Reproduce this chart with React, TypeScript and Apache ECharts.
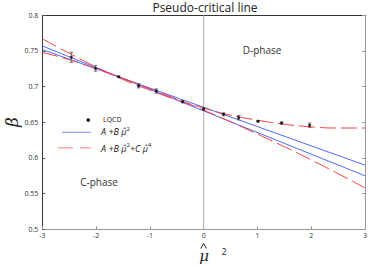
import React, { useEffect, useRef } from "react";
import * as echarts from "echarts";

// LQCD data points: mu-hat squared, beta, error
const lqcdX = [-2.46, -2.01, -1.58, -1.21, -0.88, -0.39, 0, 0.37, 0.65, 1.01, 1.45, 1.97];
const lqcdY = [0.7411, 0.7257, 0.7139, 0.7013, 0.6939, 0.6789, 0.6686, 0.6612, 0.6565, 0.6514, 0.649, 0.6458];
const lqcdErr = [0.007, 0.004, 0.001, 0.003, 0.003, 0.0015, 0.002, 0.002, 0.003, 0.001, 0.0015, 0.003];

// Linear fit band (A + B mu^2): two straight lines
const linX = [-3, 3];
const linUpperLeft = [0.757, 0.575];
const linLowerLeft = [0.752, 0.59];

// Quartic fit band (A + B mu^2 + C mu^4)
const quadX = [-3, -2.5, -2, -1.5, -1, -0.5, 0, 0.5, 1, 1.5, 2, 2.5, 3];
const quadConvex = [0.767, 0.7468, 0.7276, 0.71, 0.695, 0.6815, 0.67, 0.66, 0.653, 0.6473, 0.6436, 0.642, 0.642];
const quadConcave = [0.748, 0.7378, 0.725, 0.7116, 0.6975, 0.6826, 0.667, 0.6507, 0.6335, 0.6158, 0.5973, 0.578, 0.558];

const xTicks = { min: -3, max: 3, interval: 1 };
const yTicks = { min: 0.5, max: 0.8, interval: 0.05 };

const FONT = "'Open Sans', 'Noto Sans', sans-serif";
const BLUE = "#4d6bff";
const RED = "#ff3b3b";

export default function App() {
  const ref = useRef<HTMLDivElement>(null);
  useEffect(() => {
    if (!ref.current) return;
    const chart = echarts.init(ref.current, null, { renderer: "svg" });
    const pair = (xs: number[], ys: number[]) => xs.map((x, i) => [x, ys[i]]);
    const option: any = {
      animation: false,
      backgroundColor: "#ffffff",
      grid: { left: 42.3, right: 4.3, top: 15.3, bottom: 36.7, containLabel: false },
      xAxis: [
        {
          type: "value",
          min: xTicks.min,
          max: xTicks.max,
          interval: xTicks.interval,
          position: "bottom",
          axisLine: { show: true, onZero: false, lineStyle: { color: "#999", width: 1 } },
          axisTick: { show: true, inside: true, length: 3, lineStyle: { color: "#999" } },
          axisLabel: { fontSize: 7, color: "#333", margin: 3, fontFamily: FONT },
          splitLine: { show: false },
        },
        {
          type: "value",
          min: xTicks.min,
          max: xTicks.max,
          interval: xTicks.interval,
          position: "top",
          axisLine: { show: true, onZero: false, lineStyle: { color: "#333", width: 1 } },
          axisTick: { show: false },
          axisLabel: { show: false },
          splitLine: { show: false },
        },
      ],
      yAxis: [
        {
          type: "value",
          min: yTicks.min,
          max: yTicks.max,
          interval: yTicks.interval,
          position: "left",
          axisLine: { show: true, onZero: false, lineStyle: { color: "#333", width: 1 } },
          axisTick: { show: true, inside: true, length: 3, lineStyle: { color: "#555" } },
          axisLabel: {
            fontSize: 7,
            color: "#333",
            margin: 4,
            fontFamily: FONT,
            formatter: (v: number) => String(parseFloat(v.toFixed(2))),
          },
          splitLine: { show: false },
        },
        {
          type: "value",
          min: yTicks.min,
          max: yTicks.max,
          interval: yTicks.interval,
          position: "right",
          axisLine: { show: true, onZero: false, lineStyle: { color: "#999", width: 1 } },
          axisTick: { show: true, inside: true, length: 3, lineStyle: { color: "#999" } },
          axisLabel: { show: false },
          splitLine: { show: false },
        },
      ],
      series: [
        {
          type: "line",
          data: [[0, 0.5], [0, 0.8]],
          symbol: "none",
          lineStyle: { color: "#b0b0b0", width: 1 },
          silent: true,
          z: 1,
        },
        {
          type: "line",
          data: pair(linX, linUpperLeft),
          symbol: "none",
          lineStyle: { color: BLUE, width: 1 },
          z: 2,
        },
        {
          type: "line",
          data: pair(linX, linLowerLeft),
          symbol: "none",
          lineStyle: { color: BLUE, width: 1 },
          z: 2,
        },
        {
          type: "line",
          data: pair(quadX, quadConvex),
          symbol: "none",
          smooth: true,
          lineStyle: { color: RED, width: 1, type: [16, 5] },
          z: 3,
        },
        {
          type: "line",
          data: pair(quadX, quadConcave),
          symbol: "none",
          smooth: true,
          lineStyle: { color: RED, width: 1, type: [16, 5] },
          z: 3,
        },
        {
          type: "custom",
          data: lqcdX.map((x, i) => [x, lqcdY[i], lqcdErr[i]]),
          encode: { x: 0, y: 1 },
          z: 4,
          renderItem: (_params: any, api: any) => {
            const x = api.value(0);
            const y = api.value(1);
            const e = api.value(2);
            const top = api.coord([x, y + e]);
            const bot = api.coord([x, y - e]);
            const cap = 1.8;
            const st = { stroke: "#555", lineWidth: 0.8 };
            return {
              type: "group",
              children: [
                { type: "line", shape: { x1: top[0], y1: top[1], x2: bot[0], y2: bot[1] }, style: st },
                { type: "line", shape: { x1: top[0] - cap, y1: top[1], x2: top[0] + cap, y2: top[1] }, style: st },
                { type: "line", shape: { x1: bot[0] - cap, y1: bot[1], x2: bot[0] + cap, y2: bot[1] }, style: st },
              ],
            };
          },
        },
        {
          type: "scatter",
          data: pair(lqcdX, lqcdY),
          symbol: "circle",
          symbolSize: 3,
          itemStyle: { color: "#000" },
          z: 5,
        },
      ],
      graphic: [
        {
          type: "text",
          x: 205,
          y: 7,
          style: {
            text: "Pseudo-critical line",
            fontSize: 12,
            fill: "#222",
            fontFamily: FONT,
            align: "center",
            verticalAlign: "middle",
          },
        },
        {
          type: "text",
          x: 12,
          y: 122,
          rotation: Math.PI / 2,
          style: {
            text: "β",
            fontSize: 17,
            fontStyle: "italic",
            fill: "#222",
            fontFamily: "'DejaVu Serif', serif",
            align: "center",
            verticalAlign: "middle",
          },
        },
        {
          type: "text",
          x: 204,
          y: 255.5,
          style: {
            text: "μ",
            fontSize: 15,
            fontStyle: "italic",
            fill: "#222",
            fontFamily: "'DejaVu Serif', serif",
            align: "center",
            verticalAlign: "middle",
          },
        },
        {
          type: "polyline",
          shape: { points: [[200.8, 248.5], [203.6, 243.5], [206.4, 248.5]] },
          style: { stroke: "#222", lineWidth: 1, fill: null },
        },
        {
          type: "text",
          x: 224,
          y: 251.5,
          style: { text: "2", fontSize: 9, fill: "#222", fontFamily: FONT, align: "center", verticalAlign: "middle" },
        },
        {
          type: "text",
          x: 262,
          y: 50,
          style: { text: "D-phase", fontSize: 10, fill: "#333", fontFamily: FONT, align: "center", verticalAlign: "middle" },
        },
        {
          type: "text",
          x: 99,
          y: 182,
          style: { text: "C-phase", fontSize: 10, fill: "#333", fontFamily: FONT, align: "center", verticalAlign: "middle" },
        },
        // legend
        { type: "circle", shape: { cx: 88.3, cy: 120, r: 1.8 }, style: { fill: "#000" } },
        {
          type: "text",
          x: 103,
          y: 119.5,
          style: { text: "LQCD", fontSize: 7, fill: "#222", fontFamily: FONT, verticalAlign: "middle" },
        },
        {
          type: "line",
          shape: { x1: 62, y1: 132.3, x2: 91, y2: 132.3 },
          style: { stroke: "#7b8dff", lineWidth: 1 },
        },
        {
          type: "text",
          x: 101,
          y: 131.5,
          style: {
            text: "{i|A +B μ̂}{s|2}",
            verticalAlign: "middle",
            rich: {
              i: { fontSize: 9, fontStyle: "italic", fill: "#222", fontFamily: FONT },
              s: { fontSize: 6, fill: "#222", fontFamily: FONT, verticalAlign: "top", padding: [0, 0, 6, 0] },
            },
          },
        },
        {
          type: "line",
          shape: { x1: 58, y1: 147.7, x2: 91, y2: 147.7 },
          style: { stroke: "#ffa8a8", lineWidth: 1.5, lineDash: [15, 7] },
        },
        {
          type: "text",
          x: 101,
          y: 148,
          style: {
            text: "{i|A +B μ̂}{s|2}{i|+C μ̂}{s|4}",
            verticalAlign: "middle",
            rich: {
              i: { fontSize: 9, fontStyle: "italic", fill: "#222", fontFamily: FONT },
              s: { fontSize: 6, fill: "#222", fontFamily: FONT, verticalAlign: "top", padding: [0, 0, 6, 0] },
            },
          },
        },
      ],
    };
    chart.setOption(option);
    return () => chart.dispose();
  }, []);
  return (
    <div
      ref={ref}
      style={{ position: "fixed", left: 0, top: 0, width: 370, height: 266, background: "#fff" }}
    />
  );
}
